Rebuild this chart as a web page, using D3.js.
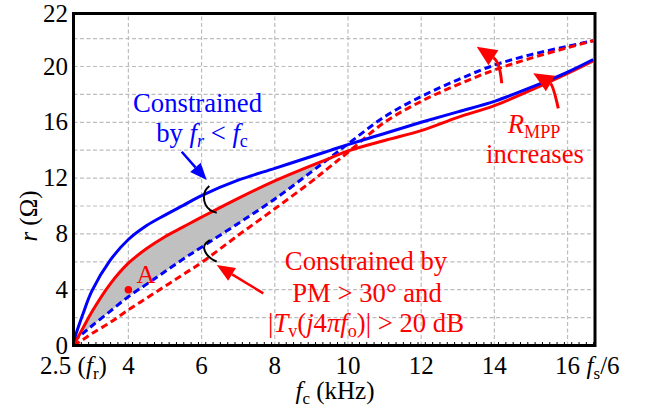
<!DOCTYPE html>
<html><head><meta charset="utf-8">
<script src="https://cdn.jsdelivr.net/npm/d3@7"></script>
<style>
html,body{margin:0;padding:0;background:#fff;}
svg{display:block;font-family:"Liberation Serif","Times New Roman",serif;}
</style></head><body>
<svg id="chart" width="653" height="415"></svg>
<script>
// ---------- data ----------
const fc         = [2.5, 2.75, 3, 3.5, 4, 4.5, 5, 5.5, 6, 7, 8, 9, 9.5, 10, 11, 12, 13, 14, 15, 16, 16.7];
const blueSolid  = [0.3, 2.2, 3.9, 6.1, 7.6, 8.6, 9.35, 10.05, 10.75, 11.85, 12.7, 13.55, 13.97, 14.4, 15.2, 16.0, 16.75, 17.5, 18.5, 19.6, 20.5];
const redSolid   = [0, 1.2, 2.4, 4.4, 5.9, 6.95, 7.8, 8.5, 9.2, 10.55, 11.8, 12.9, 13.42, 13.95, 14.7, 15.4, 16.35, 17.2, 18.3, 19.5, 20.4];
const blueDashed = [0.3, 0.85, 1.4, 2.45, 3.5, 4.4, 5.3, 6.2, 7.05, 8.75, 10.5, 12.45, 13.45, 14.45, 16.4, 17.85, 19.05, 20.1, 20.85, 21.45, 21.85];
const redDashed  = [0, 0.4, 0.85, 1.65, 2.55, 3.4, 4.25, 5.1, 5.95, 7.9, 9.8, 11.75, 12.8, 13.85, 16.0, 17.5, 18.7, 19.75, 20.6, 21.35, 21.85];

const xTicks = [2.5, 4, 6, 8, 10, 12, 14, 16];
const xTickLabels = ["2.5", "4", "6", "8", "10", "12", "14", "16"];
const yTicks = [0, 4, 8, 12, 16, 20];
const yTopLabel = "22";
const xGrid = [4, 6, 8, 10, 12, 14, 16];
const yGrid = [2, 4, 6, 8, 10, 12, 14, 16, 18, 20, 22];
const pointA = [4, 4];

// annotation geometry (data units)
const hook1 = [[6.211,11.43],[6.093,11.15],[6.047,10.67],[6.093,10.07],[6.23,9.66],[6.413,9.52]];
const hook2 = [[6.23,7.56],[6.093,7.33],[6.047,6.97],[6.14,6.49],[6.276,6.18],[6.413,6.01]];
const blueArrow = {tail:[5.457,13.89], tip:[6.14,11.86]};
const redArrow  = {tail:[7.686,3.74], tip:[6.413,5.77]};
const curvedArrow1 = {tail:[14.2,18.8], ctrl:[14.154,20.32], tip:[13.518,21.42]};
const curvedArrow2 = {tail:[15.747,17.0], ctrl:[15.602,18.67], tip:[15.064,19.51]};

// ---------- setup ----------
const svg = d3.select("#chart");
const BLUE = "#0000ff", RED = "#ff0000";
const FS_TICK = 25, FS_NOTE = 26.7;
const x = d3.scaleLinear().domain([2.5, 16.75]).range([73.5, 595]);
const y = d3.scaleLinear().domain([0, 23.8]).range([345.5, 13.5]);
const pTop = y.range()[1], pBottom = y.range()[0], pLeft = x.range()[0], pRight = x.range()[1];

svg.append("rect").attr("width",653).attr("height",415).attr("fill","#fff");

// grid
const grid = svg.append("g").attr("stroke","#bdbdbd").attr("stroke-width",1.2).attr("stroke-dasharray","4,2.5");
grid.selectAll("line.v").data(xGrid).join("line").attr("class","v")
  .attr("x1",d=>x(d)).attr("x2",d=>x(d)).attr("y1",pBottom).attr("y2",pTop);
grid.selectAll("line.h").data(yGrid).join("line").attr("class","h")
  .attr("y1",d=>y(d)).attr("y2",d=>y(d)).attr("x1",pLeft).attr("x2",pRight);

// shaded area between red solid and blue dashed (clipped under red solid)
const rows = fc.map((f,i)=>({f, bs:blueSolid[i], rs:redSolid[i], bd:blueDashed[i], rd:redDashed[i]}));
const curve = d3.curveCatmullRom.alpha(0.5);
svg.append("clipPath").attr("id","belowRed").append("path")
  .attr("d", d3.area().curve(curve).x(d=>x(d.f)).y0(y(0)).y1(d=>y(d.rs))(rows));
svg.append("path")
  .attr("clip-path","url(#belowRed)")
  .attr("fill","#c0c0c0")
  .attr("d", d3.area().curve(curve).x(d=>x(d.f)).y0(d=>y(d.bd)).y1(d=>y(d.rs))(rows));

// lines
const lineOf = key => d3.line().curve(curve).x(d=>x(d.f)).y(d=>y(d[key]))(rows);
svg.append("path").attr("d",lineOf("bd")).attr("fill","none").attr("stroke",BLUE).attr("stroke-width",3).attr("stroke-dasharray","7,4");
svg.append("path").attr("d",lineOf("rd")).attr("fill","none").attr("stroke",RED).attr("stroke-width",3).attr("stroke-dasharray","7,4");
svg.append("path").attr("d",lineOf("rs")).attr("fill","none").attr("stroke",RED).attr("stroke-width",3);
svg.append("path").attr("d",lineOf("bs")).attr("fill","none").attr("stroke",BLUE).attr("stroke-width",3);

// hooks
const hookLine = d3.line().curve(d3.curveBasis).x(d=>x(d[0])).y(d=>y(d[1]));
[hook1, hook2].forEach(h => svg.append("path").attr("d",hookLine(h)).attr("fill","none").attr("stroke","#000").attr("stroke-width",2));

// arrows
function head(tipPx, fromPx, len, hw, color){
  const dx = tipPx[0]-fromPx[0], dy = tipPx[1]-fromPx[1];
  const L = Math.hypot(dx,dy), ux = dx/L, uy = dy/L;
  const bx = tipPx[0]-ux*len, by = tipPx[1]-uy*len;
  svg.append("path").attr("fill",color)
    .attr("d",`M${tipPx[0]},${tipPx[1]}L${bx-uy*hw},${by+ux*hw}L${bx+uy*hw},${by-ux*hw}Z`);
  return [bx,by];
}
function straightArrow(a, color, len, hw){
  const t = [x(a.tail[0]), y(a.tail[1])], p = [x(a.tip[0]), y(a.tip[1])];
  const b = head(p, t, len, hw, color);
  svg.append("line").attr("x1",t[0]).attr("y1",t[1]).attr("x2",b[0]).attr("y2",b[1]).attr("stroke",color).attr("stroke-width",2.5);
}
function curvedArrow(a, color){
  const t = [x(a.tail[0]), y(a.tail[1])], c = [x(a.ctrl[0]), y(a.ctrl[1])], p = [x(a.tip[0]), y(a.tip[1])];
  const b = head(p, c, 20, 9, color);
  const pth = d3.path(); pth.moveTo(t[0],t[1]); pth.quadraticCurveTo(c[0],c[1],b[0],b[1]);
  svg.append("path").attr("d",pth.toString()).attr("fill","none").attr("stroke",color).attr("stroke-width",3);
}
straightArrow(blueArrow, BLUE, 17, 7);
straightArrow(redArrow, RED, 18, 7.5);
curvedArrow(curvedArrow1, RED);
curvedArrow(curvedArrow2, RED);

// point A
svg.append("circle").attr("cx",x(pointA[0])).attr("cy",y(pointA[1])).attr("r",3.8).attr("fill",RED);
svg.append("text").attr("x",x(pointA[0])+8).attr("y",y(pointA[1])-6.5).attr("fill",RED).attr("font-size",26).text("A");

// frame
svg.append("rect").attr("x",pLeft).attr("y",pTop).attr("width",pRight-pLeft).attr("height",pBottom-pTop)
  .attr("fill","none").attr("stroke","#000").attr("stroke-width",3);

// minor ticks on bottom axis
const ax = svg.append("g").attr("transform",`translate(0,${pBottom})`)
  .call(d3.axisBottom(x).tickValues(d3.range(2.7, 16.75, 0.2)).tickSize(-3.5).tickFormat(""));
ax.select(".domain").remove();
ax.selectAll("line").attr("stroke","#000").attr("stroke-width",1);

// rich text helper
function rich(x0, y0, parts, opts={}){
  const size = opts.size||FS_NOTE;
  const t = svg.append("text").attr("x",x0).attr("y",y0)
    .attr("font-size",size).attr("fill",opts.color||"#000")
    .attr("text-anchor",opts.anchor||"middle");
  if (opts.transform) t.attr("transform",opts.transform);
  let shift = 0;
  parts.forEach(p=>{
    const s = t.append("tspan").text(p.t);
    const want = p.sub ? 5 : 0;
    if (want !== shift){ s.attr("dy", want-shift); shift = want; }
    if (p.i) s.attr("font-style","italic");
    if (p.sub) s.attr("font-size", size*0.68);
  });
  return t;
}

// x tick labels
xTicks.forEach((v,i)=>{
  if (i===0){
    rich(x(v), 373.5, [{t:xTickLabels[i]+" ("},{t:"f",i:true},{t:"r",sub:true},{t:")"}], {size:FS_TICK});
  } else {
    rich(x(v), 373.5, [{t:xTickLabels[i]}], {size:FS_TICK});
  }
});
rich(x(16)+19, 373.5, [{t:"f",i:true},{t:"s",sub:true},{t:"/6"}], {size:FS_TICK, anchor:"start"});

// y tick labels
yTicks.forEach(v=>{
  svg.append("text").attr("x",68).attr("y",y(v)).attr("dy","0.32em").attr("text-anchor","end")
    .attr("font-size",FS_TICK).text(v);
});
svg.append("text").attr("x",68).attr("y",pTop).attr("dy","0.32em").attr("text-anchor","end")
  .attr("font-size",FS_TICK).text(yTopLabel);

// axis titles
rich(335, 399, [{t:"f",i:true},{t:"c",sub:true},{t:" (kHz)"}], {size:FS_TICK});
rich(0, 0, [{t:"r",i:true},{t:" (Ω)"}], {size:FS_TICK, transform:"translate(37,216) rotate(-90)"});

// annotations
rich(197.5, 111.7, [{t:"Constrained"}], {color:BLUE});
rich(202, 141.7, [{t:"by "},{t:"f",i:true},{t:"r",i:true,sub:true},{t:" < "},{t:"f",i:true},{t:"c",sub:true}], {color:BLUE});

rich(366, 270, [{t:"Constrained by"}], {color:RED});
rich(367, 301.7, [{t:"PM  > 30° and"}], {color:RED});
rich(366, 331.7, [{t:"|"},{t:"T",i:true},{t:"v",sub:true},{t:"("},{t:"j",i:true},{t:"4"},{t:"πf",i:true},{t:"o",sub:true},{t:")| > 20 dB"}], {color:RED});

rich(534, 133.3, [{t:"R",i:true},{t:"MPP",sub:true}], {color:RED});
rich(535, 163.3, [{t:"increases"}], {color:RED});
</script></body></html>
